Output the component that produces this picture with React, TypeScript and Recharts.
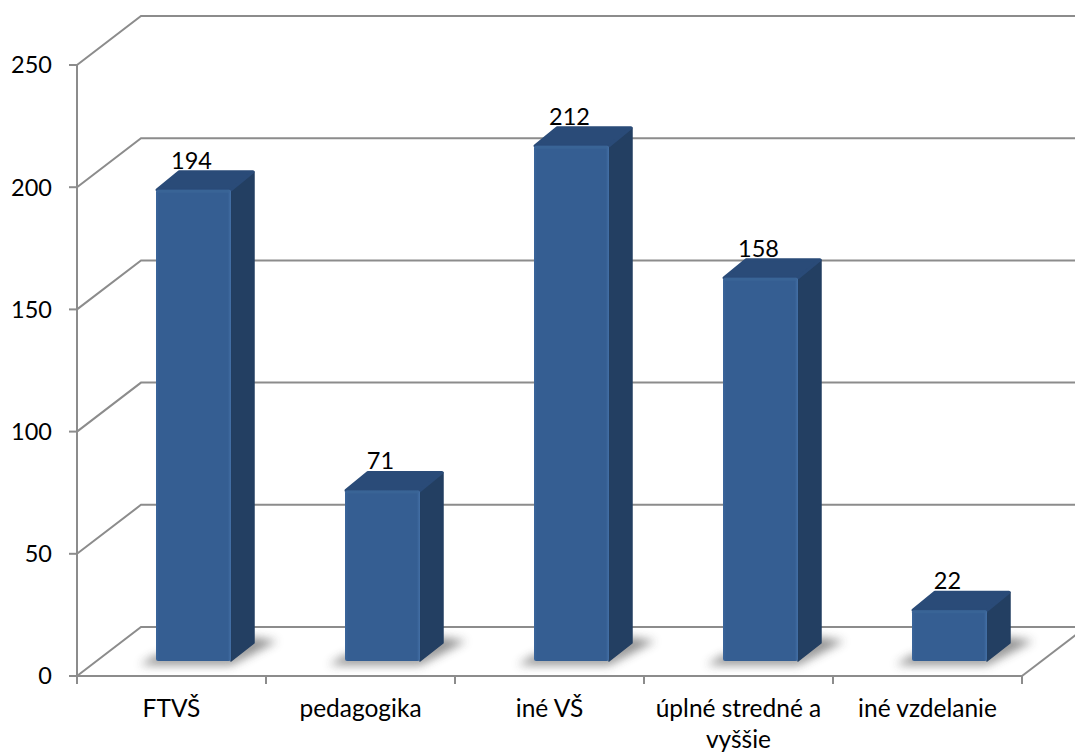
import React from 'react';
import { Bar, BarChart, CartesianGrid, LabelList, XAxis, YAxis } from 'recharts';

const CATEGORIES = ['FTVŠ', 'pedagogika', 'iné VŠ', 'úplné stredné a vyššie', 'iné vzdelanie'];
const VALUES = [194, 71, 212, 158, 22];
const Y_TICKS = [0, 50, 100, 150, 200, 250];

const data = CATEGORIES.map((name, i) => ({ name, value: VALUES[i] }));

const AXIS_COLOR = '#8c8c8c';
const FONT = 'Lato, "Open Sans", sans-serif';
const FONT_SIZE = 23.5;
const CATEGORY_FONT_SIZE = 24.5;

// fake 3D projection
const WALL_DX = 64;
const WALL_DY = -49;
const BAR_DX = 22;
const BAR_BASE_DY = -15;
const BAR_TOP_DY = -12;
const DEPTH_X = 23;
const DEPTH_Y = -18;
const PLOT_LEFT = 77;
const PLOT_BOTTOM = 676;
const PLOT_RIGHT = 1022;
const BAND = (PLOT_RIGHT - PLOT_LEFT) / CATEGORIES.length;

const wrapLabel = (label: string, maxChars = 18) => {
  const lines: string[] = [];
  label.split(' ').forEach(word => {
    const last = lines[lines.length - 1];
    if (last && (last + ' ' + word).length <= maxChars) lines[lines.length - 1] = last + ' ' + word;
    else lines.push(word);
  });
  return lines;
};

const WallLine = (props: any) => {
  const { x1, y1, x2, key } = props;
  const isFloor = y1 >= PLOT_BOTTOM - 1;
  return (
    <g key={key}>
      <polyline
        points={`${x1},${y1} ${x1 + WALL_DX},${y1 + WALL_DY} ${x2 + WALL_DX},${y1 + WALL_DY}`}
        fill="none"
        stroke={AXIS_COLOR}
        strokeWidth={2}
      />
      {isFloor && (
        <line x1={PLOT_RIGHT} y1={y1} x2={PLOT_RIGHT + WALL_DX} y2={y1 + WALL_DY} stroke={AXIS_COLOR} strokeWidth={2} />
      )}
    </g>
  );
};

const Bar3D = (props: any) => {
  const { x, y, width, height } = props;
  const left = x + BAR_DX;
  const right = left + width;
  const top = y + BAR_TOP_DY;
  const base = y + height + BAR_BASE_DY;
  return (
    <g>
      <polygon
        points={`${left - 16},${base + 4} ${right},${base + 4} ${right + 46},${base - 20} ${right + 20},${base - 24} ${right},${base - 6} ${left},${base - 6}`}
        fill="#3a3a3a"
        opacity={0.55}
        filter="url(#floorShadow)"
      />
      <polygon
        points={`${right},${top} ${right + DEPTH_X},${top + DEPTH_Y} ${right + DEPTH_X},${base + DEPTH_Y} ${right},${base}`}
        fill="#233f62"
        stroke="#233f62"
        strokeWidth={1.5}
        strokeLinejoin="round"
      />
      <polygon
        points={`${left + 1},${top} ${left + DEPTH_X},${top + DEPTH_Y} ${right + DEPTH_X - 1},${top + DEPTH_Y} ${right},${top}`}
        fill="#2a4b78"
        stroke="#2a4b78"
        strokeWidth={3}
        strokeLinejoin="round"
      />
      <rect x={left} y={top} width={width} height={base - top} rx={2} fill="url(#barFront)" />
      <rect x={left + 1} y={top} width={width - 2} height={3} rx={1} fill="#3c6699" opacity={0.7} />
    </g>
  );
};

const BarValue = (props: any) => {
  const { x, y, width, value } = props;
  return (
    <text
      x={x + BAR_DX + width / 2 - 2}
      y={y + BAR_TOP_DY - 21}
      textAnchor="middle"
      fill="#000"
      fontFamily={FONT}
      fontSize={FONT_SIZE}
    >
      {value}
    </text>
  );
};

// ticks sit on the category boundaries, not under the labels
const CategoryTick = (props: any) => {
  const { x, y, payload, index } = props;
  const tickMark = (tx: number) => (
    <line x1={tx} y1={PLOT_BOTTOM} x2={tx} y2={PLOT_BOTTOM + 8} stroke={AXIS_COLOR} strokeWidth={2} />
  );
  return (
    <g>
      {tickMark(x - BAND / 2)}
      {index === CATEGORIES.length - 1 && tickMark(x + BAND / 2)}
      <text x={x} y={y + 31} textAnchor="middle" fill="#000" fontFamily={FONT} fontSize={CATEGORY_FONT_SIZE}>
        {wrapLabel(payload.value).map((line, i) => (
          <tspan key={line} x={x} dy={i === 0 ? 0 : 31}>
            {line}
          </tspan>
        ))}
      </text>
    </g>
  );
};

export default function App() {
  return (
    <div style={{ position: 'absolute', left: 0, top: 0, width: 1075, height: 754, overflow: 'hidden', background: '#fff' }}>
      <BarChart
        width={1075}
        height={754}
        data={data}
        margin={{ top: 65, right: 53, bottom: 48, left: 0 }}
        barCategoryGap={0}
      >
        <defs>
          <linearGradient id="barFront" x1="0" y1="0" x2="1" y2="0">
            <stop offset="0%" stopColor="#3a659b" />
            <stop offset="4%" stopColor="#355e92" />
            <stop offset="96%" stopColor="#355e92" />
            <stop offset="100%" stopColor="#4470a6" />
          </linearGradient>
          <filter id="floorShadow" x="-30%" y="-100%" width="160%" height="300%">
            <feGaussianBlur stdDeviation="5" />
          </filter>
        </defs>
        <CartesianGrid vertical={false} horizontal={WallLine} />
        <XAxis
          dataKey="name"
          interval={0}
          height={30}
          tick={CategoryTick}
          tickSize={8}
          tickLine={false}
          axisLine={{ stroke: AXIS_COLOR, strokeWidth: 2 }}
        />
        <YAxis
          width={77}
          domain={[0, 250]}
          ticks={Y_TICKS}
          interval={0}
          tickSize={8}
          tickMargin={17}
          tick={{ fill: '#000', fontFamily: FONT, fontSize: FONT_SIZE }}
          axisLine={{ stroke: AXIS_COLOR, strokeWidth: 2 }}
          tickLine={{ stroke: AXIS_COLOR, strokeWidth: 2 }}
        />
        <Bar dataKey="value" barSize={75} shape={Bar3D} isAnimationActive={false}>
          <LabelList dataKey="value" content={BarValue} />
        </Bar>
      </BarChart>
    </div>
  );
}
